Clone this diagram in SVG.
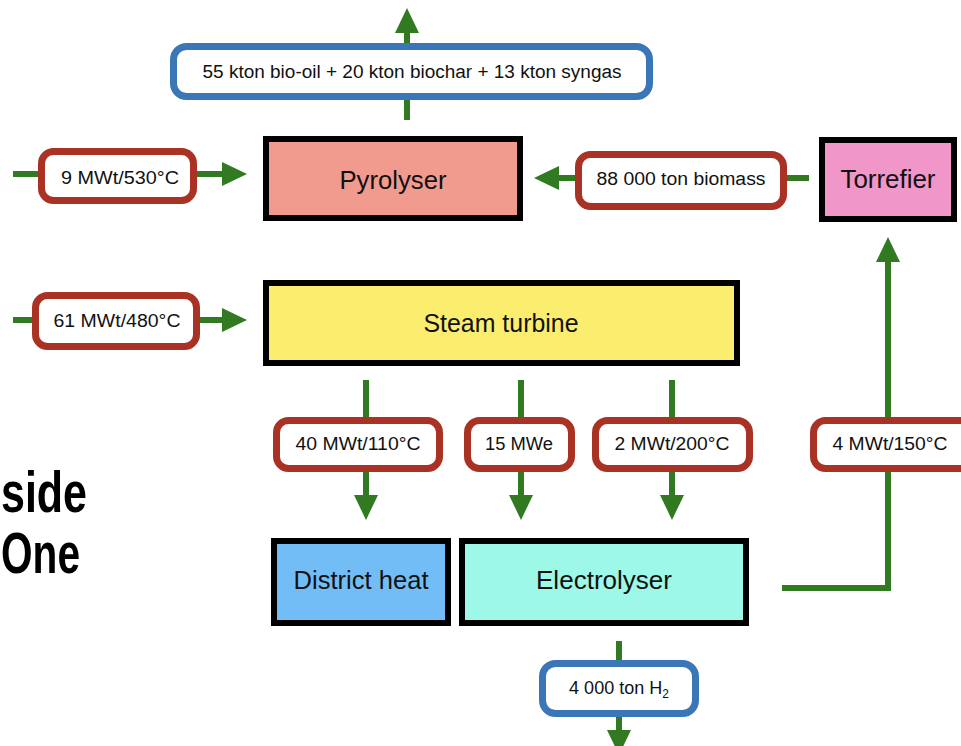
<svg xmlns="http://www.w3.org/2000/svg" width="961" height="746" viewBox="0 0 961 746">
<style>
.flow{fill:none;stroke:#317a22;stroke-width:6;marker-end:url(#ah)}
.node{stroke:#000;stroke-width:6}
.lab{fill:#fff;stroke:#a93224;stroke-width:7}
.out{fill:#fff;stroke:#3b76b6;stroke-width:7}
text{font-family:"Liberation Sans",Arial,sans-serif;fill:#111;text-anchor:middle}
.nt{font-size:25px}
.lt{font-size:18px}
.big{font-weight:bold;font-size:58px;text-anchor:start;fill:#000}
</style>
<defs>
<marker id="ah" markerUnits="userSpaceOnUse" markerWidth="26" markerHeight="26" refX="0" refY="12" orient="auto">
<path d="M0,0 L25,12 L0,24 Z" fill="#317a22"/>
</marker>
</defs>
<rect width="961" height="746" fill="#fff"/>
<g id="title">
<text class="big" x="1" y="512" textLength="86" lengthAdjust="spacingAndGlyphs">side</text>
<text class="big" x="1" y="573" textLength="79" lengthAdjust="spacingAndGlyphs">One</text>
</g>
<g id="connectors">
<line class="flow" x1="407" y1="120" x2="407" y2="33"/>
<line class="flow" x1="13" y1="174" x2="222" y2="174"/>
<line class="flow" x1="13" y1="320" x2="222" y2="320"/>
<line class="flow" x1="809" y1="178" x2="559" y2="178"/>
<line class="flow" x1="366" y1="380" x2="366" y2="495"/>
<line class="flow" x1="521" y1="380" x2="521" y2="495"/>
<line class="flow" x1="672" y1="380" x2="672" y2="495"/>
<polyline class="flow" points="782,588 888,588 888,262"/>
<line class="flow" x1="619" y1="641" x2="619" y2="730"/>
</g>
<g id="pyrolyser">
<rect class="node" x="266" y="139" width="254" height="79" fill="#f19b8f"/>
<text class="nt" x="393" y="189" textLength="107" lengthAdjust="spacingAndGlyphs">Pyrolyser</text>
</g>
<g id="steam-turbine">
<rect class="node" x="266" y="283" width="471" height="80" fill="#fbee6e"/>
<text class="nt" x="501" y="332" textLength="155" lengthAdjust="spacingAndGlyphs">Steam turbine</text>
</g>
<g id="torrefier">
<rect class="node" x="822" y="140" width="132" height="79" fill="#f096c8"/>
<text class="nt" x="888" y="188" textLength="95" lengthAdjust="spacingAndGlyphs">Torrefier</text>
</g>
<g id="district-heat">
<rect class="node" x="274" y="541" width="174" height="82" fill="#73bdf7"/>
<text class="nt" x="361" y="589" textLength="135" lengthAdjust="spacingAndGlyphs">District heat</text>
</g>
<g id="electrolyser">
<rect class="node" x="462" y="541" width="284" height="82" fill="#9ef8e7"/>
<text class="nt" x="604" y="589" textLength="136" lengthAdjust="spacingAndGlyphs">Electrolyser</text>
</g>
<g id="products">
<rect class="out" x="173.5" y="46.5" width="476" height="50" rx="13"/>
<text class="lt" x="412" y="78" textLength="419" lengthAdjust="spacingAndGlyphs">55 kton bio-oil + 20 kton biochar + 13 kton syngas</text>
</g>
<g id="heat-530">
<rect class="lab" x="41.5" y="151.5" width="152" height="49" rx="12"/>
<text class="lt" x="120" y="184" textLength="118" lengthAdjust="spacingAndGlyphs">9 MWt/530°C</text>
</g>
<g id="biomass">
<rect class="lab" x="578.5" y="154.5" width="205" height="52" rx="12"/>
<text class="lt" x="681" y="185" textLength="169" lengthAdjust="spacingAndGlyphs">88 000 ton biomass</text>
</g>
<g id="heat-480">
<rect class="lab" x="35.5" y="295.5" width="161" height="51" rx="12"/>
<text class="lt" x="117" y="327" textLength="127" lengthAdjust="spacingAndGlyphs">61 MWt/480°C</text>
</g>
<g id="heat-110">
<rect class="lab" x="276.5" y="420.5" width="163" height="48" rx="12"/>
<text class="lt" x="358" y="450" textLength="125" lengthAdjust="spacingAndGlyphs">40 MWt/110°C</text>
</g>
<g id="power-15">
<rect class="lab" x="467.5" y="420.5" width="104" height="48" rx="12"/>
<text class="lt" x="519" y="450" textLength="68" lengthAdjust="spacingAndGlyphs">15 MWe</text>
</g>
<g id="heat-200">
<rect class="lab" x="595.5" y="420.5" width="154" height="48" rx="12"/>
<text class="lt" x="672" y="450" textLength="115" lengthAdjust="spacingAndGlyphs">2 MWt/200°C</text>
</g>
<g id="heat-150">
<rect class="lab" x="813.5" y="420.5" width="160" height="48" rx="12"/>
<text class="lt" x="890" y="450" textLength="115" lengthAdjust="spacingAndGlyphs">4 MWt/150°C</text>
</g>
<g id="hydrogen">
<rect class="out" x="542.5" y="663.5" width="153" height="50" rx="13"/>
<text class="lt" x="619" y="694">4 000 ton H<tspan font-size="12" dy="4">2</tspan></text>
</g>
</svg>
